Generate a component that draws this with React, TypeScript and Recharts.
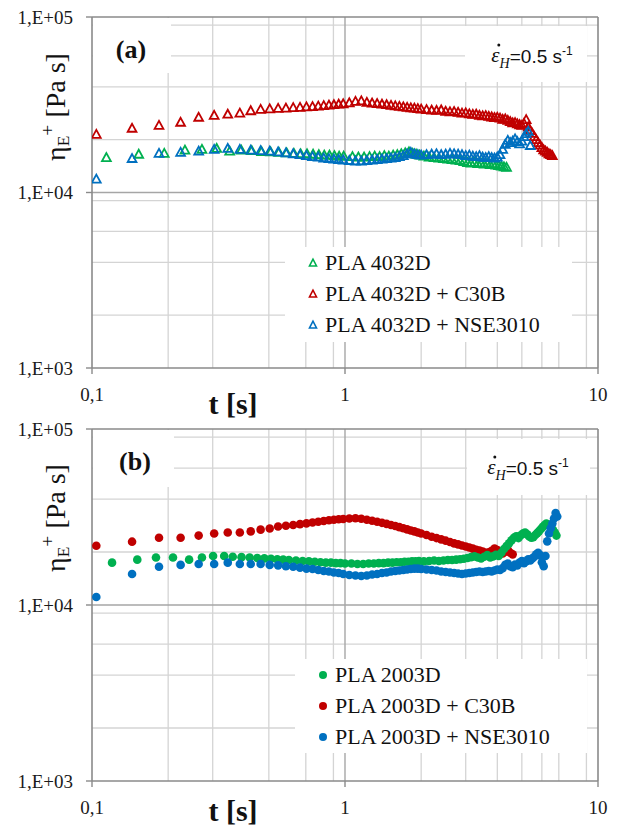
import React from 'react'
import { ScatterChart, Scatter, XAxis, YAxis, CartesianGrid, ReferenceLine } from 'recharts'

// ---- axes ----
const majorX = [0.1, 1, 10]
const minorX = [0.2, 0.3, 0.4, 0.5, 0.6, 0.7, 0.8, 0.9, 2, 3, 4, 5, 6, 7, 8, 9]
const majorY = [1000, 10000, 100000]
const minorY = [2000, 3000, 4000, 5000, 6000, 7000, 8000, 9000, 20000, 30000, 40000, 50000, 60000, 70000, 80000, 90000]

// ---- panel (a): PLA 4032D ----
const timeA = [
  0.104, 0.144, 0.184, 0.224, 0.264, 0.304, 0.344, 0.384, 0.424, 0.464,
  0.504, 0.544, 0.584, 0.624, 0.664, 0.704, 0.744, 0.784, 0.824, 0.864,
  0.904, 0.944, 0.984,
  1.04, 1.1, 1.16, 1.22, 1.28, 1.34, 1.4, 1.46, 1.52, 1.58, 1.64, 1.7, 1.76, 1.82, 1.88, 1.94, 2.0,
  2.1, 2.2, 2.3, 2.4, 2.5, 2.6, 2.7, 2.8, 2.9, 3.0,
  3.1, 3.2, 3.3, 3.4, 3.5, 3.6, 3.7, 3.8, 3.9, 4.0,
  4.1, 4.2, 4.3, 4.4, 4.5, 4.6, 4.7, 4.8, 4.9, 5.0,
  5.1, 5.2, 5.3, 5.4, 5.5, 5.6, 5.7, 5.8, 5.9, 6.0,
  6.1, 6.2, 6.3, 6.4, 6.5, 6.6,
]
const timeAGreen = [
  0.114, 0.153, 0.193, 0.233, 0.272, 0.311, 0.35, 0.389, 0.428, 0.468,
  0.508, 0.548, 0.588, 0.628, 0.668, 0.708, 0.748, 0.788, 0.828, 0.868,
  0.908, 0.948, 0.988,
  1.07, 1.13, 1.19, 1.25, 1.31, 1.37, 1.43, 1.49, 1.55, 1.61, 1.67, 1.73, 1.79, 1.85, 1.91, 1.97,
  2.05, 2.15, 2.25, 2.35, 2.45, 2.55, 2.65, 2.75, 2.85, 2.95,
  3.05, 3.15, 3.25, 3.35, 3.45, 3.55, 3.65, 3.75, 3.85, 3.95,
  4.05, 4.15, 4.25, 4.35,
]
const etaA_PLA = [
  15800, 16500, 16700, 17400, 17600, 17800, 17200, 17400, 17300, 17100,
  17000, 16900, 16800, 16700, 16600, 16600, 16500, 16400, 16300, 16300,
  16200, 16100, 16100,
  16000, 15900, 15900, 16000, 16100, 16000, 16200, 16100, 16300, 16400, 16600, 16800, 17000, 16700, 16500, 16300,
  16100, 15900, 15800, 15700, 15600, 15500, 15400, 15300, 15200, 15000,
  14800, 14700, 14800, 14600, 14700, 14500, 14600, 14400, 14500, 14300,
  14200, 14100, 14000, 13900,
]
const etaA_C30B = [
  21400, 23200, 24100, 25100, 26800, 27500, 27900, 28300, 29200, 29700,
  29900, 30100, 30200, 30400, 30500, 30700, 30800, 31000, 31200, 31400,
  31600, 31800, 32000,
  32400, 33000, 33200, 32600, 32300, 32100, 31800, 31600, 31300, 31100, 30900, 30700, 30500, 30300, 30200, 30000, 29800,
  29600, 29400, 29300, 29500, 29000, 28800, 28900, 28600, 28300, 28400,
  28000, 27800, 27900, 27500, 27300, 27400, 27100, 26900, 26700, 26800,
  26500, 26100, 26200, 25700, 25300, 24900, 25000, 24600, 24300, 24100,
  24700, 26000, 23600, 22500, 21700, 20800, 20000, 19200, 18600, 18000,
  17500, 17200, 16900, 16600, 16400, 16200,
]
const etaA_NSE = [
  11900, 15600, 16700, 16900, 17200, 17600, 17800, 17600, 17400, 17300,
  17200, 17000, 16800, 16600, 16400, 16200, 16000, 15900, 15700, 15600,
  15500, 15400, 15300,
  15200, 15100, 15100, 15200, 15300, 15400, 15500, 15600, 15700, 15800, 16000, 16200, 16600, 16900, 16600, 16400, 16300,
  16400, 16500, 16600, 16400, 16500, 16700, 16600, 16500, 16400, 16200,
  16300, 16100, 16000, 16200, 15900, 15800, 16000, 15800, 15700, 15900,
  16400, 17600, 18800, 19800, 19200, 19600, 20200, 19500, 18900, 19600,
  20800, 21600, 22300, 18500,
]

// ---- panel (b): PLA 2003D ----
const timeB = [
  0.104, 0.144, 0.184, 0.224, 0.264, 0.304, 0.344, 0.384, 0.424, 0.464,
  0.504, 0.544, 0.584, 0.624, 0.664, 0.704, 0.744, 0.784, 0.824, 0.864,
  0.904, 0.944, 0.984,
  1.04, 1.1, 1.16, 1.22, 1.28, 1.34, 1.4, 1.46, 1.52, 1.58, 1.64, 1.7, 1.76, 1.82, 1.88, 1.94, 2.0,
  2.1, 2.2, 2.3, 2.4, 2.5, 2.6, 2.7, 2.8, 2.9, 3.0,
  3.1, 3.2, 3.3, 3.4, 3.5, 3.6, 3.7, 3.8, 3.9, 4.0,
  4.1, 4.2, 4.3, 4.4, 4.5, 4.6, 4.7, 4.8, 4.9, 5.0,
  5.1, 5.2, 5.3, 5.4, 5.5, 5.6, 5.7, 5.8, 5.9, 6.0,
  6.1, 6.2, 6.3, 6.4, 6.5, 6.6, 6.7, 6.8, 6.9,
]
const timeBGreen = [
  0.12, 0.151, 0.179, 0.209, 0.242, 0.272, 0.301, 0.333, 0.36, 0.39,
  0.42, 0.45, 0.48, 0.51, 0.54, 0.57, 0.6, 0.64, 0.68, 0.72,
  0.76, 0.8, 0.84, 0.88, 0.92, 0.96, 1.0,
  1.06, 1.12, 1.18, 1.24, 1.3, 1.36, 1.42, 1.48, 1.54, 1.6, 1.66, 1.72, 1.78, 1.84, 1.9, 1.96,
  2.05, 2.15, 2.25, 2.35, 2.45, 2.55, 2.65, 2.75, 2.85, 2.95,
  3.05, 3.15, 3.25, 3.35, 3.45, 3.55, 3.65, 3.75, 3.85, 3.95,
  4.05, 4.15, 4.25, 4.35, 4.45, 4.55, 4.65, 4.75, 4.85, 4.95,
  5.05, 5.15, 5.25, 5.35, 5.45, 5.55, 5.65, 5.75, 5.85, 5.95,
  6.05, 6.15, 6.25, 6.35, 6.45, 6.55, 6.65, 6.75, 6.85,
]
const etaB_PLA = [
  17400, 18100, 18600, 18600, 18100, 18600, 19000, 19000, 18800, 18700,
  18600, 18500, 18400, 18300, 18200, 18100, 18000, 17900, 17800, 17700,
  17600, 17500, 17400, 17400, 17300, 17300, 17200,
  17200, 17100, 17100, 17200, 17200, 17300, 17300, 17400, 17400, 17500, 17500, 17600, 17600, 17700, 17700, 17800,
  17700, 17800, 17900, 17800, 17900, 18000, 18000, 18100, 18200, 18300,
  18500, 18700, 18900, 18600, 18400, 18800, 19200, 18600, 18900, 19300,
  19000, 19800, 20800, 21600, 22400, 23300, 24100, 24600, 24000, 24900,
  25500, 25800, 25200, 24500, 24100, 24300, 25000, 25600, 26300, 27000,
  27800, 28500, 29000, 28600, 28000, 27300, 26600, 25800, 24800,
]
const etaB_C30B = [
  21700, 22900, 24100, 24100, 24800, 25500, 25800, 25800, 26200, 26800,
  27200, 27900, 28200, 28500, 28800, 29100, 29400, 29700, 30000, 30300,
  30500, 30700, 30800,
  31000, 31100, 30900, 30500, 30100, 29700, 29300, 28900, 28500, 28100, 27700, 27300, 26900, 26500, 26200, 25800, 25500,
  25000, 24400, 24000, 23600, 23200, 22800, 22400, 22100, 21800, 21500,
  21200, 20900, 20600, 20400, 20100, 19800, 19900, 20300, 20900, 20500,
  19900, 19600, 20100, 20600, 19800, 19400,
]
const etaB_NSE = [
  11100, 15000, 16500, 16900, 17100, 17100, 17400, 17100, 17100, 17100,
  16900, 16800, 16600, 16500, 16300, 16100, 16000, 15800, 15600, 15500,
  15300, 15200, 15000,
  14800, 14700, 14600, 14700, 14900, 15000, 15200, 15300, 15500, 15600, 15700, 15800, 15900, 16000, 16100, 16100, 16000,
  15900, 15800, 15700, 15500, 15400, 15300, 15200, 15100, 15000, 15100,
  15200, 15300, 15400, 15500, 15400, 15500, 15600, 15500, 15700, 15900,
  15800, 16200, 16900, 17200, 16600, 16400, 17000, 16800, 17400, 17800,
  17300, 17700, 18200, 17900, 18400, 18800, 19400, 19800, 19200, 17500,
  16600, 19000, 23000, 25500, 27300, 29000, 31000, 33300, 31800,
]

const namesA = ['PLA 4032D', 'PLA 4032D + C30B', 'PLA 4032D + NSE3010']
const namesB = ['PLA 2003D', 'PLA 2003D + C30B', 'PLA 2003D + NSE3010']

const GREEN = '#00b050'
const RED = '#c00000'
const BLUE = '#0070c0'
const colors = [GREEN, RED, BLUE]

const SERIF = '"Liberation Serif", Tinos, "Times New Roman", "DejaVu Serif", serif'
const SANS = '"Liberation Sans", Arimo, Arial, sans-serif'
const AXIS = '#8a8a8a'

type Row = { t: number; eta: number }
const zip = (t: number[], v: number[]): Row[] => v.map((eta, i) => ({ t: t[i], eta }))

const fmtX = (v: number) => String(v).replace('.', ',')
const fmtY = (v: number) => `1,E+0${Math.round(Math.log10(v))}`

const triangle = (color: string) => (p: any) => (
  <polygon
    points={`${p.cx},${p.cy - 4.6} ${p.cx - 4.4},${p.cy + 3.4} ${p.cx + 4.4},${p.cy + 3.4}`}
    fill="none"
    stroke={color}
    strokeWidth={1.8}
  />
)
const dot = (color: string) => (p: any) => <circle cx={p.cx} cy={p.cy} r={4.3} fill={color} />

function Panel({
  top,
  height,
  margin,
  series,
  marker,
}: {
  top: number
  height: number
  margin: { top: number; right: number; bottom: number; left: number }
  series: { name: string; data: Row[]; color: string }[]
  marker: (c: string) => (p: any) => React.ReactElement
}) {
  return (
    <div style={{ position: 'absolute', left: 0, top, width: 621, height }}>
      <ScatterChart width={621} height={height} margin={margin}>
        <CartesianGrid horizontalValues={minorY} verticalValues={minorX} stroke="#d4d4d4" strokeWidth={1.3} />
        <CartesianGrid horizontalValues={[10000]} verticalValues={[1]} stroke="#a6a6a6" strokeWidth={1.4} />
        <XAxis
          dataKey="t"
          type="number"
          scale="log"
          domain={[0.1, 10]}
          allowDataOverflow
          ticks={majorX}
          tickFormatter={fmtX}
          tick={{ fill: '#1a1a1a', fontSize: 19, fontFamily: SERIF }}
          tickSize={6}
          tickMargin={14}
          axisLine={{ stroke: AXIS, strokeWidth: 1.6 }}
          tickLine={{ stroke: AXIS, strokeWidth: 1.4 }}
          height={47}
        />
        <YAxis
          dataKey="eta"
          type="number"
          scale="log"
          domain={[1000, 100000]}
          allowDataOverflow
          ticks={majorY}
          tickFormatter={fmtY}
          tick={{ fill: '#1a1a1a', fontSize: 19, fontFamily: SERIF }}
          tickSize={6}
          tickMargin={13}
          axisLine={{ stroke: AXIS, strokeWidth: 1.6 }}
          tickLine={{ stroke: AXIS, strokeWidth: 1.4 }}
          width={92}
        />
        <ReferenceLine x={10} stroke={AXIS} strokeWidth={1.6} />
        <ReferenceLine y={100000} stroke={AXIS} strokeWidth={1.6} />
        {series.map((s) => (
          <Scatter key={s.name} name={s.name} data={s.data} shape={marker(s.color)} isAnimationActive={false} />
        ))}
      </ScatterChart>
    </div>
  )
}

function At({ x, y, style, children }: { x: number; y: number; style?: React.CSSProperties; children: React.ReactNode }) {
  return (
    <div
      style={{
        position: 'absolute',
        left: x,
        top: y,
        transform: 'translate(-50%, -50%)',
        whiteSpace: 'nowrap',
        lineHeight: 1,
        ...style,
      }}
    >
      {children}
    </div>
  )
}

function WhiteBox({ x0, y0, x1, y1 }: { x0: number; y0: number; x1: number; y1: number }) {
  return <div style={{ position: 'absolute', left: x0, top: y0, width: x1 - x0, height: y1 - y0, background: '#fff' }} />
}

function Legend({ x0, y0, x1, y1, names, filled }: { x0: number; y0: number; x1: number; y1: number; names: string[]; filled: boolean }) {
  const rows = [16, 47, 78]
  return (
    <div style={{ position: 'absolute', left: x0, top: y0, width: x1 - x0, height: y1 - y0, background: '#fff' }}>
      {names.map((n, i) => (
        <React.Fragment key={n}>
          <svg style={{ position: 'absolute', left: 22, top: rows[i] - 6 }} width={12} height={12}>
            {filled ? (
              <circle cx={6} cy={6} r={4} fill={colors[i]} />
            ) : (
              <polygon points="6,2.2 2.5,9 9.5,9" fill="none" stroke={colors[i]} strokeWidth={1.6} />
            )}
          </svg>
          <div
            style={{
              position: 'absolute',
              left: 40,
              top: rows[i],
              transform: 'translateY(-50%)',
              fontFamily: SERIF,
              fontSize: 22,
              lineHeight: 1,
              color: '#111',
              whiteSpace: 'nowrap',
            }}
          >
            {n}
          </div>
        </React.Fragment>
      ))}
    </div>
  )
}

const YTitle = ({ y }: { y: number }) => (
  <At x={55} y={y} style={{ transform: 'translate(-50%, -50%) rotate(-90deg)', fontFamily: SERIF, fontSize: 28, color: '#111' }}>
    η<span style={{ fontSize: '0.62em', verticalAlign: '-0.2em' }}>E</span>
    <span style={{ fontSize: '0.7em', verticalAlign: '0.6em' }}>+</span> [Pa s]
  </At>
)

const XTitle = ({ y }: { y: number }) => (
  <At x={233} y={y} style={{ fontFamily: SERIF, fontSize: 30, fontWeight: 'bold', color: '#111' }}>
    t [s]
  </At>
)

// strain rate annotation: epsilon with an overdot (drawn as a tiny disc), subscript H
const Rate = ({ x, y }: { x: number; y: number }) => (
  <At x={x} y={y} style={{ fontFamily: SANS, fontSize: 19, color: '#111' }}>
    <span style={{ position: 'relative', display: 'inline-block', fontFamily: SERIF, fontStyle: 'italic', fontSize: 21 }}>
      ε
      <span
        style={{
          position: 'absolute',
          left: 6,
          top: -2,
          width: 3,
          height: 3,
          borderRadius: '50%',
          background: '#111',
        }}
      />
    </span>
    <span style={{ fontFamily: SERIF, fontStyle: 'italic', fontSize: 14, verticalAlign: '-0.35em' }}>H</span>
    =0.5 s<span style={{ fontSize: 12, verticalAlign: '0.6em' }}>-1</span>
  </At>
)

export default function App() {
  const seriesA = [
    { name: namesA[0], data: zip(timeAGreen, etaA_PLA), color: GREEN },
    { name: namesA[1], data: zip(timeA, etaA_C30B), color: RED },
    { name: namesA[2], data: zip(timeA, etaA_NSE), color: BLUE },
  ]
  const seriesB = [
    { name: namesB[1], data: zip(timeB, etaB_C30B), color: RED },
    { name: namesB[0], data: zip(timeBGreen, etaB_PLA), color: GREEN },
    { name: namesB[2], data: zip(timeB, etaB_NSE), color: BLUE },
  ]
  return (
    <div style={{ position: 'absolute', left: 0, top: 0, width: 621, height: 829, background: '#fff', overflow: 'hidden' }}>
      <Panel top={0} height={415} margin={{ top: 17, right: 23, bottom: 0, left: 0 }} series={seriesA} marker={triangle} />
      <Panel top={400} height={429} margin={{ top: 29, right: 23, bottom: 1, left: 0 }} series={seriesB} marker={dot} />

      {/* panel (a) overlays */}
      <WhiteBox x0={93} y0={18} x1={171} y1={73} />
      <At x={131} y={50} style={{ fontFamily: SERIF, fontSize: 26, fontWeight: 'bold', color: '#111' }}>(a)</At>
      <WhiteBox x0={465} y0={26} x1={587} y1={82} />
      <Rate x={532} y={58} />
      <Legend x0={285} y0={247} x1={572} y1={342} names={namesA} filled={false} />
      <YTitle y={107} />
      <XTitle y={404} />

      {/* panel (b) overlays */}
      <WhiteBox x0={93} y0={430} x1={174} y1={487} />
      <At x={135} y={462} style={{ fontFamily: SERIF, fontSize: 26, fontWeight: 'bold', color: '#111' }}>(b)</At>
      <WhiteBox x0={467} y0={439} x1={590} y1={495} />
      <Rate x={528} y={470} />
      <Legend x0={295} y0={659} x1={587} y1={753} names={namesB} filled />
      <YTitle y={518} />
      <XTitle y={811} />
    </div>
  )
}
